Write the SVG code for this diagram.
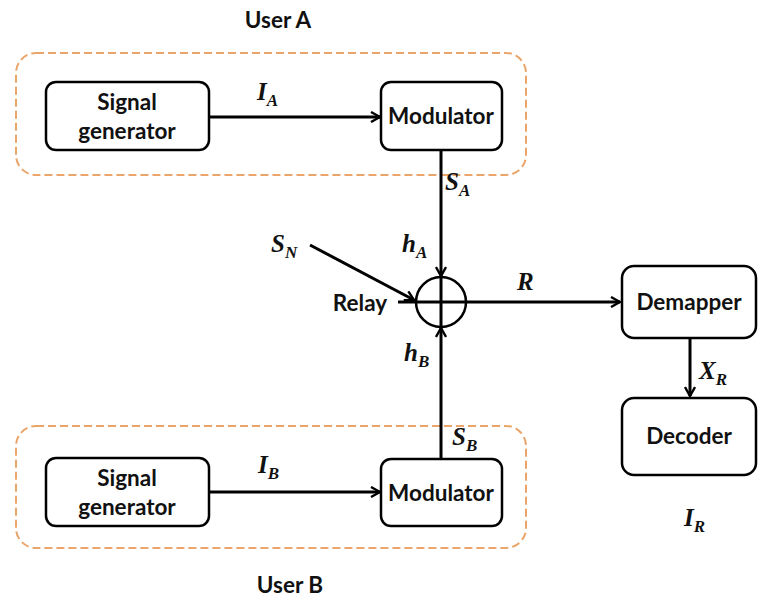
<svg xmlns="http://www.w3.org/2000/svg" width="759" height="599" viewBox="0 0 759 599">
  <style>
    .grp { fill: none; stroke: #E9A56A; stroke-width: 2; stroke-dasharray: 8 4; }
    .box { fill: #fff; stroke: #000; stroke-width: 2.5; }
    .lbl { font-family: Lato, "Liberation Sans", sans-serif; font-weight: bold; font-size: 22.5px; fill: #111; text-anchor: middle; }
    .math { font-family: "Liberation Serif", "DejaVu Serif", serif; font-weight: bold; font-style: italic; font-size: 25px; fill: #111; }
    .sub { font-size: 17px; }
    .wire { fill: none; stroke: #000; stroke-width: 3; }
  </style>
  <defs>
    <marker id="arrow" viewBox="0 0 12 12" refX="11" refY="6" markerWidth="12" markerHeight="12" markerUnits="userSpaceOnUse" orient="auto">
      <path d="M2,1 L11,6 L2,11" fill="none" stroke="#000" stroke-width="2.4"/>
    </marker>
  </defs>

  <rect width="759" height="599" fill="#fff"/>

  <!-- User A group -->
  <text class="lbl" x="278" y="28">User A</text>
  <rect class="grp" x="16" y="53" width="510" height="122" rx="20"/>
  <g id="siggen-a">
    <rect class="box" x="46" y="82" width="163" height="68" rx="10"/>
    <text class="lbl" x="127" y="110">Signal</text>
    <text class="lbl" x="127" y="139">generator</text>
  </g>
  <g id="mod-a">
    <rect class="box" x="381" y="82" width="121" height="68" rx="10"/>
    <text class="lbl" x="441" y="124">Modulator</text>
  </g>

  <!-- User B group -->
  <rect class="grp" x="16" y="426" width="510" height="122" rx="20"/>
  <text class="lbl" x="290" y="593">User B</text>
  <g id="siggen-b">
    <rect class="box" x="46" y="458" width="163" height="68" rx="10"/>
    <text class="lbl" x="127" y="486">Signal</text>
    <text class="lbl" x="127" y="515">generator</text>
  </g>
  <g id="mod-b">
    <rect class="box" x="381" y="459" width="121" height="67" rx="10"/>
    <text class="lbl" x="441" y="501">Modulator</text>
  </g>

  <!-- Relay summing junction -->
  <g id="relay">
    <circle cx="441" cy="302" r="25" fill="none" stroke="#000" stroke-width="2.5"/>
    <text class="lbl" x="360" y="311">Relay</text>
  </g>

  <!-- Receiver -->
  <g id="demapper">
    <rect class="box" x="622" y="266" width="134" height="72" rx="12"/>
    <text class="lbl" x="689" y="310">Demapper</text>
  </g>
  <g id="decoder">
    <rect class="box" x="622" y="398" width="134" height="77" rx="12"/>
    <text class="lbl" x="689" y="444">Decoder</text>
  </g>

  <!-- Connectors -->
  <g id="connectors">
    <line class="wire" x1="209" y1="117" x2="380" y2="117" marker-end="url(#arrow)"/>
    <line class="wire" x1="209" y1="492" x2="380" y2="492" marker-end="url(#arrow)"/>
    <line class="wire" x1="441" y1="150" x2="441" y2="276" marker-end="url(#arrow)"/>
    <line class="wire" x1="441" y1="459" x2="441" y2="328" marker-end="url(#arrow)"/>
    <line class="wire" x1="441" y1="277" x2="441" y2="327"/>
    <line class="wire" x1="310" y1="245" x2="414" y2="300" marker-end="url(#arrow)"/>
    <line class="wire" x1="398" y1="302" x2="620" y2="302" marker-end="url(#arrow)"/>
    <line class="wire" x1="690" y1="338" x2="690" y2="396" marker-end="url(#arrow)"/>
  </g>

  <!-- Signal labels -->
  <text class="math" x="257" y="100">I<tspan class="sub" dy="6">A</tspan></text>
  <text class="math" x="445" y="190">S<tspan class="sub" dy="6">A</tspan></text>
  <text class="math" x="271" y="252">S<tspan class="sub" dy="6">N</tspan></text>
  <text class="math" x="402" y="252">h<tspan class="sub" dy="6">A</tspan></text>
  <text class="math" x="517" y="290">R</text>
  <text class="math" x="404" y="361">h<tspan class="sub" dy="6">B</tspan></text>
  <text class="math" x="452" y="445">S<tspan class="sub" dy="6">B</tspan></text>
  <text class="math" x="258" y="473">I<tspan class="sub" dy="6">B</tspan></text>
  <text class="math" x="699" y="379">X<tspan class="sub" dy="6">R</tspan></text>
  <text class="math" x="684" y="526">I<tspan class="sub" dy="6">R</tspan></text>
</svg>
